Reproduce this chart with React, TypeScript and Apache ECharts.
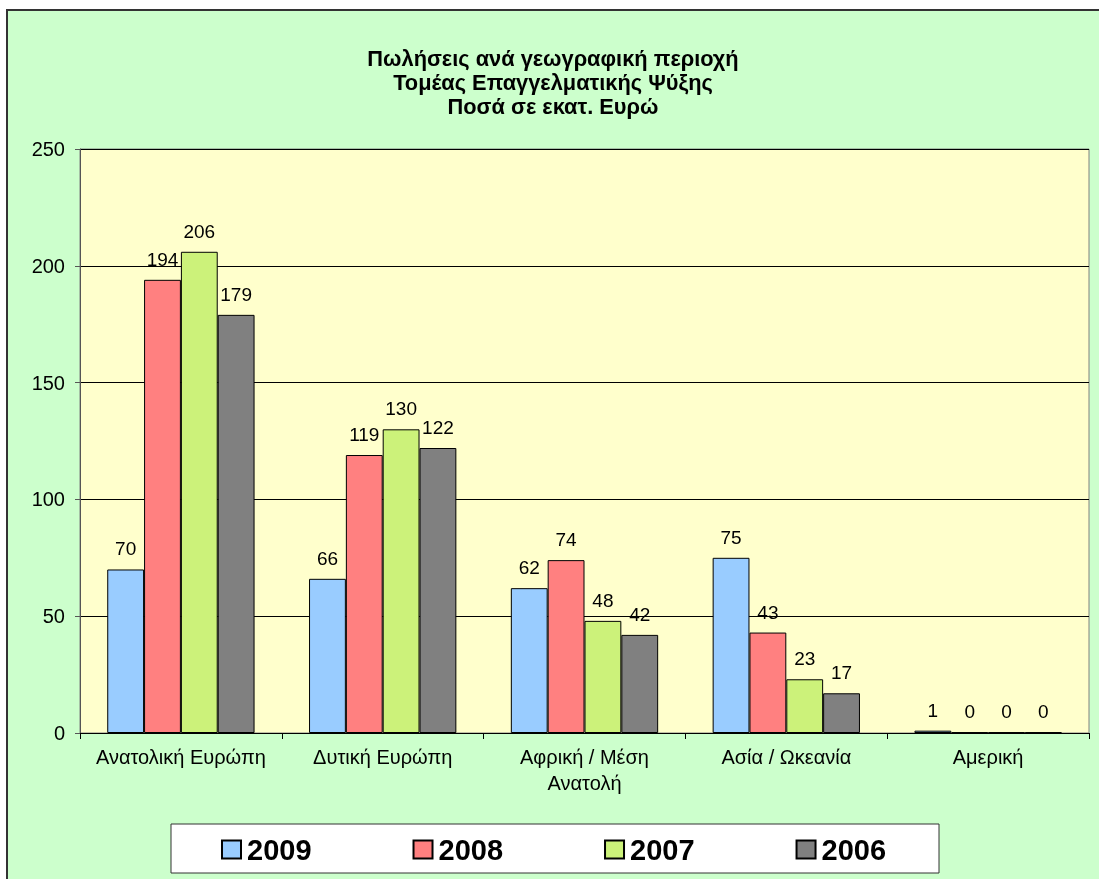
import React, { useEffect, useRef } from "react";
import * as echarts from "echarts";

const categories = [
  "Ανατολική Ευρώπη",
  "Δυτική Ευρώπη",
  "Αφρική / Μέση\nΑνατολή",
  "Ασία / Ωκεανία",
  "Αμερική",
];
const seriesNames = ["2009", "2008", "2007", "2006"];
const values2009 = [70, 66, 62, 75, 1];
const values2008 = [194, 119, 74, 43, 0.3];
const values2007 = [206, 130, 48, 23, 0.3];
const values2006 = [179, 122, 42, 17, 0.3];
const colors = ["#99CCFF", "#FF8080", "#CCF27A", "#808080"];
const titleLines = [
  "Πωλήσεις ανά γεωγραφική περιοχή",
  "Τομέας Επαγγελματικής Ψύξης",
  "Ποσά σε εκατ. Ευρώ",
];

const FONT = "Arial, 'Liberation Sans', sans-serif";

export default function App() {
  const ref = useRef<HTMLDivElement>(null);
  useEffect(() => {
    if (!ref.current) return;
    const chart = echarts.init(ref.current, null, { renderer: "svg" });
    const allValues = [values2009, values2008, values2007, values2006];
    chart.setOption({
      animation: false,
      textStyle: { fontFamily: FONT },
      graphic: [
        {
          type: "rect",
          z: -10,
          silent: true,
          shape: { x: 7, y: 10, width: 1100, height: 880 },
          style: { fill: "#CCFFCC", stroke: "#333333", lineWidth: 2 },
        },
        {
          type: "text",
          x: 553,
          y: 46,
          style: {
            text: titleLines.join("\n"),
            textAlign: "center",
            fontFamily: FONT,
            fontSize: 21.8,
            fontWeight: "bold",
            lineHeight: 24,
            fill: "#000",
          },
        },
        {
          type: "rect",
          z: -5,
          silent: true,
          shape: { x: 171, y: 824, width: 768, height: 49 },
          style: { fill: "#FFFFFF", stroke: "#333333", lineWidth: 1 },
        },
      ],
      legend: {
        left: 221,
        top: 835,
        padding: 0,
        itemGap: 101,
        itemWidth: 19,
        itemHeight: 18,
        icon: "rect",
        textStyle: {
          fontSize: 29,
          fontWeight: "bold",
          color: "#000",
          fontFamily: FONT,
          padding: [0, 0, 0, 1],
        },
        data: seriesNames,
      },
      grid: {
        left: 80,
        top: 149,
        right: 10,
        bottom: 146,
        show: true,
        backgroundColor: "#FFFFCC",
        borderColor: "#808080",
        borderWidth: 1,
      },
      xAxis: {
        type: "category",
        data: categories,
        axisLine: { lineStyle: { color: "#000", width: 1 } },
        axisTick: { show: true, interval: 0, length: 6, lineStyle: { color: "#000" } },
        axisLabel: {
          interval: 0,
          color: "#000",
          fontSize: 20,
          margin: 11,
          lineHeight: 26,
          fontFamily: FONT,
        },
      },
      yAxis: {
        type: "value",
        min: 0,
        max: 250,
        interval: 50,
        axisLine: { show: true, lineStyle: { color: "#555", width: 1 } },
        axisTick: { show: true, length: 5, lineStyle: { color: "#555" } },
        axisLabel: { color: "#000", fontSize: 20, margin: 15, fontFamily: FONT },
        splitLine: { lineStyle: { color: "#000", width: 1 } },
      },
      series: seriesNames.map((name, i) => ({
        name,
        type: "bar",
        data: allValues[i],
        barGap: "0%",
        barCategoryGap: "27%",
        itemStyle: { color: colors[i], borderColor: "#000", borderWidth: 1 },
        label: {
          show: true,
          position: "top",
          distance: 11,
          color: "#000",
          fontSize: 19,
          fontFamily: FONT,
          formatter: (p: any) => String(Math.round(p.value)),
        },
      })),
    });
    return () => chart.dispose();
  }, []);
  return (
    <div
      ref={ref}
      style={{ position: "fixed", left: 0, top: 0, width: 1099, height: 879 }}
    />
  );
}
